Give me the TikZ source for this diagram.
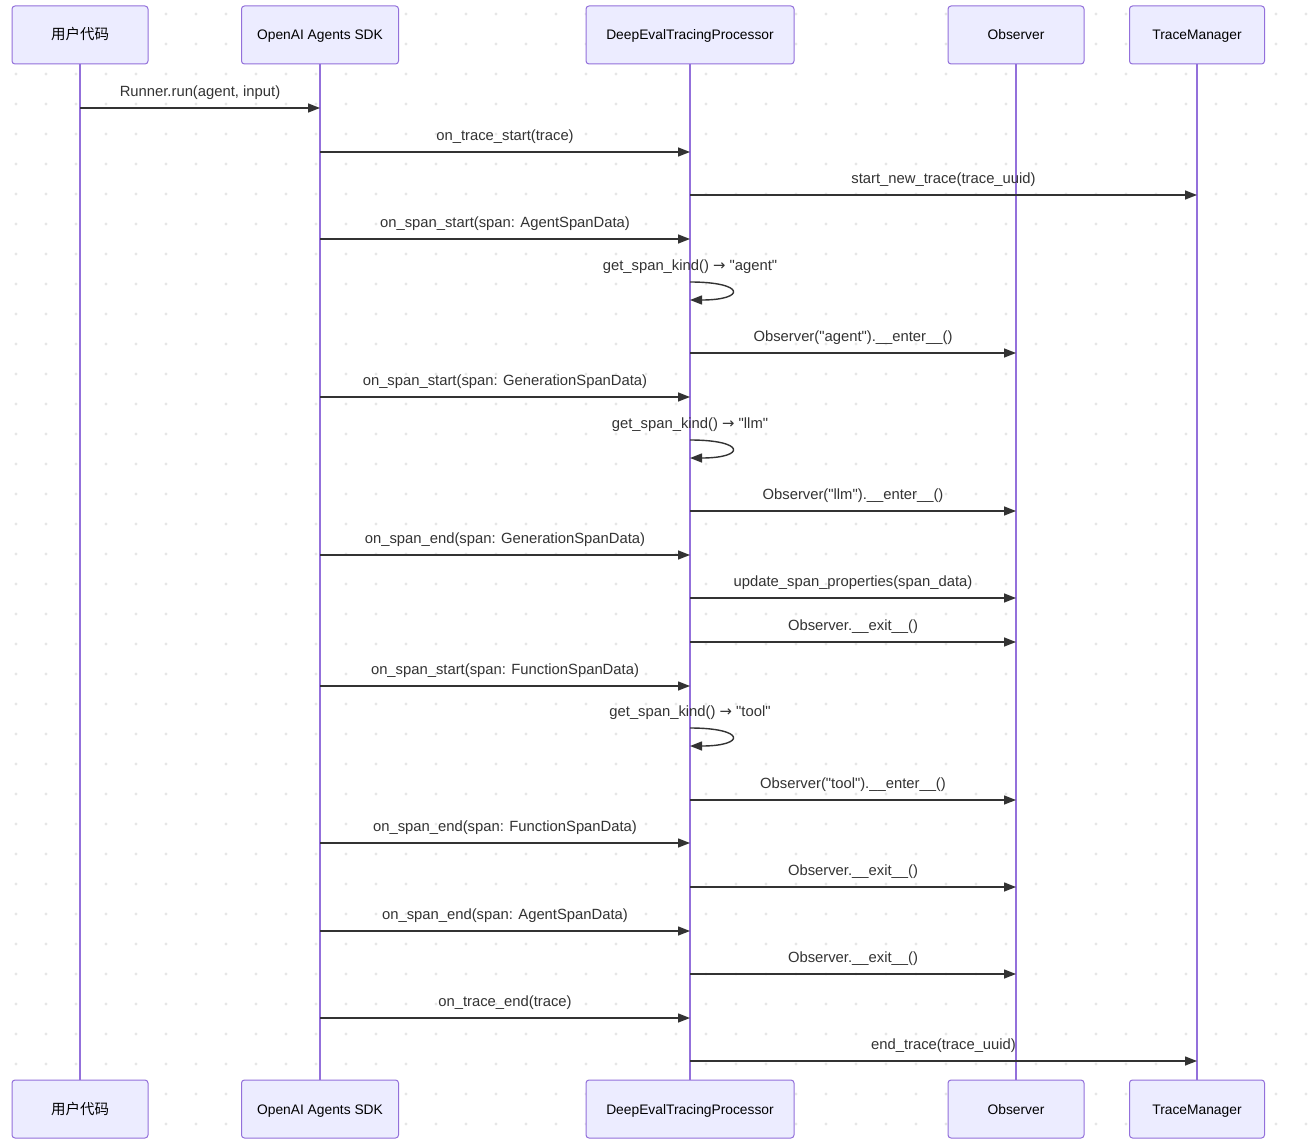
\documentclass[tikz,border=0pt]{standalone}
\usepackage{fontspec}
\newfontfamily\uifont{Liberation Sans}
\newfontfamily\cjkfont{Noto Sans CJK SC}
\newfontfamily\symfont{DejaVu Sans}
\usetikzlibrary{arrows.meta}
\definecolor{actorfill}{HTML}{ECECFF}
\definecolor{actorline}{HTML}{9370DB}
\definecolor{msgline}{HTML}{333333}
\definecolor{gridDot}{HTML}{E6E6E6}
\newcommand{\kindarrow}{{\symfont\symbol{"2192}}}
\begin{document}
\begin{tikzpicture}[x=1pt, y=-1pt,
        actor/.style={rectangle, rounded corners=3pt, draw=actorline, fill=actorfill, line width=1pt, minimum height=58pt, text height=11pt, text depth=1pt, font=\uifont\fontsize{13.8}{16}\selectfont},
        life/.style={draw=actorline, line width=1.6pt},
        msg/.style={draw=msgline, line width=1.4pt, -{Triangle[length=12pt,width=9pt]}},
        lbl/.style={text=msgline, inner sep=0pt, font=\uifont\fontsize{14.8}{17}\selectfont},
        ]
        \fill[white] (0,0) rectangle (1310,1145);
        \useasboundingbox (0,0) rectangle (1310,1145);
        \foreach \x in {16,46,...,1306}
            \foreach \y in {14,44,...,1134}
                \fill[gridDot] (\x,\y) circle (1.6);

        \node (usrT) at (80,35) [actor, minimum width=136pt] {\cjkfont\fontsize{14.5}{16}\selectfont 用户代码};
        \node (sdkT) at (320,35) [actor, minimum width=157pt] {OpenAI Agents SDK};
        \node (deT) at (690,35) [actor, minimum width=208pt] {DeepEvalTracingProcessor};
        \node (obsT) at (1016,35) [actor, minimum width=136pt] {Observer};
        \node (tmT) at (1197,35) [actor, minimum width=135pt] {TraceManager};

        \node (usrB) at (80,1109) [actor, minimum width=136pt] {\cjkfont\fontsize{14.5}{16}\selectfont 用户代码};
        \node (sdkB) at (320,1109) [actor, minimum width=157pt] {OpenAI Agents SDK};
        \node (deB) at (690,1109) [actor, minimum width=208pt] {DeepEvalTracingProcessor};
        \node (obsB) at (1016,1109) [actor, minimum width=136pt] {Observer};
        \node (tmB) at (1197,1109) [actor, minimum width=135pt] {TraceManager};

        \draw[life] (usrT) -- (usrB);
        \draw[life] (sdkT) -- (sdkB);
        \draw[life] (deT) -- (deB);
        \draw[life] (obsT) -- (obsB);
        \draw[life] (tmT) -- (tmB);

        \coordinate (m1) at (0,108);
        \coordinate (m2) at (0,152);
        \coordinate (m3) at (0,195);
        \coordinate (m4) at (0,239);
        \coordinate (s1a) at (0,282);
        \coordinate (s1b) at (0,300);
        \coordinate (m6) at (0,353);
        \coordinate (m7) at (0,397);
        \coordinate (s2a) at (0,440);
        \coordinate (s2b) at (0,458);
        \coordinate (m9) at (0,511);
        \coordinate (m10) at (0,555);
        \coordinate (m11) at (0,598);
        \coordinate (m12) at (0,642);
        \coordinate (m13) at (0,686);
        \coordinate (s3a) at (0,728);
        \coordinate (s3b) at (0,746);
        \coordinate (m15) at (0,800);
        \coordinate (m16) at (0,843);
        \coordinate (m17) at (0,887);
        \coordinate (m18) at (0,931);
        \coordinate (m19) at (0,974);
        \coordinate (m20) at (0,1018);
        \coordinate (m21) at (0,1061);

        \draw[msg] (usrT |- m1) -- node[lbl, above=8pt] {Runner.run(agent, input)} (sdkT |- m1);
        \draw[msg] (sdkT |- m2) -- node[lbl, above=8pt] {on\_trace\_start(trace)} (deT |- m2);
        \draw[msg] (deT |- m3) -- node[lbl, above=8pt] {start\_new\_trace(trace\_uuid)} (tmT |- m3);
        \draw[msg] (sdkT |- m4) -- node[lbl, above=8pt] {on\_span\_start(span: AgentSpanData)} (deT |- m4);
        \draw[msg] (deT |- s1a) .. controls +(56,0) and +(56,0) .. node[lbl, pos=0, above=8pt] {get\_span\_kind() \kindarrow{} "agent"} (deT |- s1b);
        \draw[msg] (deT |- m6) -- node[lbl, above=8pt] {Observer("agent").\_\_enter\_\_()} (obsT |- m6);
        \draw[msg] (sdkT |- m7) -- node[lbl, above=8pt] {on\_span\_start(span: GenerationSpanData)} (deT |- m7);
        \draw[msg] (deT |- s2a) .. controls +(56,0) and +(56,0) .. node[lbl, pos=0, above=8pt] {get\_span\_kind() \kindarrow{} "llm"} (deT |- s2b);
        \draw[msg] (deT |- m9) -- node[lbl, above=8pt] {Observer("llm").\_\_enter\_\_()} (obsT |- m9);
        \draw[msg] (sdkT |- m10) -- node[lbl, above=8pt] {on\_span\_end(span: GenerationSpanData)} (deT |- m10);
        \draw[msg] (deT |- m11) -- node[lbl, above=8pt] {update\_span\_properties(span\_data)} (obsT |- m11);
        \draw[msg] (deT |- m12) -- node[lbl, above=8pt] {Observer.\_\_exit\_\_()} (obsT |- m12);
        \draw[msg] (sdkT |- m13) -- node[lbl, above=8pt] {on\_span\_start(span: FunctionSpanData)} (deT |- m13);
        \draw[msg] (deT |- s3a) .. controls +(56,0) and +(56,0) .. node[lbl, pos=0, above=8pt] {get\_span\_kind() \kindarrow{} "tool"} (deT |- s3b);
        \draw[msg] (deT |- m15) -- node[lbl, above=8pt] {Observer("tool").\_\_enter\_\_()} (obsT |- m15);
        \draw[msg] (sdkT |- m16) -- node[lbl, above=8pt] {on\_span\_end(span: FunctionSpanData)} (deT |- m16);
        \draw[msg] (deT |- m17) -- node[lbl, above=8pt] {Observer.\_\_exit\_\_()} (obsT |- m17);
        \draw[msg] (sdkT |- m18) -- node[lbl, above=8pt] {on\_span\_end(span: AgentSpanData)} (deT |- m18);
        \draw[msg] (deT |- m19) -- node[lbl, above=8pt] {Observer.\_\_exit\_\_()} (obsT |- m19);
        \draw[msg] (sdkT |- m20) -- node[lbl, above=8pt] {on\_trace\_end(trace)} (deT |- m20);
        \draw[msg] (deT |- m21) -- node[lbl, above=8pt] {end\_trace(trace\_uuid)} (tmT |- m21);

    \end{tikzpicture}
\end{document}
